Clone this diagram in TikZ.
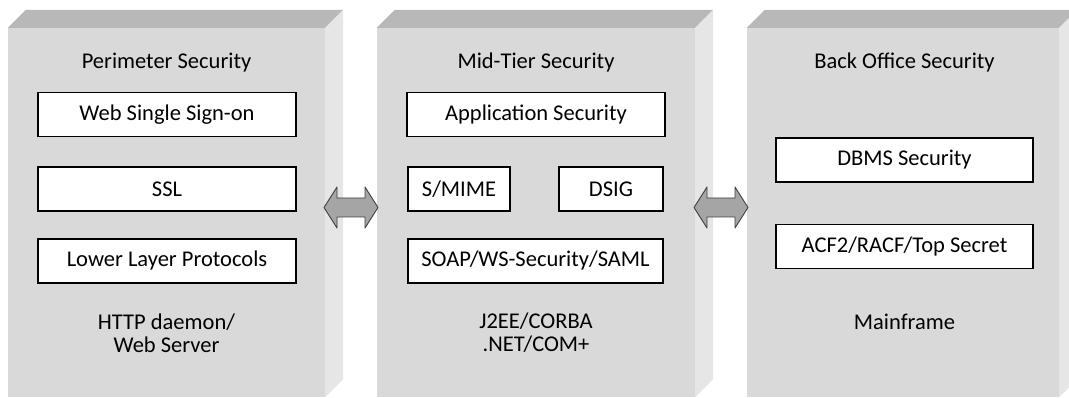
\documentclass[tikz,border=0pt]{standalone}
\usepackage{fontspec}
\setmainfont{Carlito}
\usepackage{tikz}
\usetikzlibrary{shapes,calc}
\definecolor{front-grey}{RGB}{217,217,217}
\definecolor{top-grey}{RGB}{184,184,184}
\definecolor{side-grey}{RGB}{230,230,230}
\definecolor{arrow-grey}{RGB}{165,165,165}
\tikzstyle{panel}=[fill=front-grey, inner sep=0pt, minimum height=369pt]
\tikzstyle{topface}=[fill=top-grey]
\tikzstyle{sideface}=[fill=side-grey]
\tikzstyle{layer}=[draw=black, line width=1.1pt, fill=white, inner sep=0pt, minimum height=44pt, font=\fontsize{22.5}{23}\selectfont]
\tikzstyle{caption}=[align=center, font=\fontsize{22.5}{23}\selectfont]
\tikzstyle{link}=[draw=black!75, line width=.9pt, fill=arrow-grey, line join=round]

\begin{document}
\begin{tikzpicture}[x=1pt, y=-1pt]
	\useasboundingbox (0,0) rectangle (1069,398);
	\clip (0,0) rectangle (1069,398);
	% the three tiers
	\node[panel, minimum width=317pt] (perim) at (166.5,212.5) {};
	\node[panel, minimum width=318pt] (mid) at (536,212.5) {};
	\node[panel, minimum width=312pt] (back) at (903,212.5) {};
	\foreach \p in {perim,mid,back} {
		\fill[topface] (\p.north west) -- ++(18,-18) -- ($(\p.north east)+(18,-18)$) -- (\p.north east) -- cycle;
		\fill[sideface] (\p.north east) -- ++(18,-18) -- ($(\p.south east)+(18,-18)$) -- (\p.south east) -- cycle;
	}
	% perimeter
	\node[caption] (perimt) at (166.5,63) {Perimeter Security};
	\node[layer, minimum width=258pt] (sso) at (167,114.5) {Web Single Sign-on};
	\node[layer, minimum width=258pt] (ssl) at (167,189) {SSL};
	\node[layer, minimum width=258pt] (llp) at (167,261) {Lower Layer Protocols};
	\node[caption] (httpd) at (166.5,333) {HTTP daemon/\\Web Server};
	% mid tier
	\node[caption] (midt) at (536,63) {Mid-Tier Security};
	\node[layer, minimum width=258pt] (appsec) at (536,114.5) {Application Security};
	\node[layer, minimum width=102pt] (smime) at (459,189) {S/MIME};
	\node[layer, minimum width=104pt] (dsig) at (611,189) {DSIG};
	\node[layer, minimum width=255pt] (soap) at (535.5,261) {SOAP/WS-Security/SAML};
	\node[caption] (j2ee) at (536,333) {J2EE/CORBA\\.NET/COM+};
	% back office
	\node[caption] (backt) at (904.5,63) {Back Office Security};
	\node[layer, minimum width=257pt] (dbms) at (904.5,160) {DBMS Security};
	\node[layer, minimum width=257pt] (acf) at (904.5,246.5) {ACF2/RACF/Top Secret};
	\node[caption] (mainf) at (904.5,322) {Mainframe};
	% links between tiers
	\coordinate (arrA) at ($(perim.east)!.5!(mid.west)+(0,-5)$);
	\coordinate (arrB) at ($(mid.east)!.5!(back.west)+(0,-5)$);
	\foreach \a in {arrA,arrB}
		\draw[link] ($(\a)+(-27,0)$) -- ++(13,-20.5) -- ++(0,11) -- ++(28,0) -- ++(0,-11) -- ++(13,20.5)
			-- ++(-13,20.5) -- ++(0,-11) -- ++(-28,0) -- ++(0,11) -- cycle;
\end{tikzpicture}
\end{document}
